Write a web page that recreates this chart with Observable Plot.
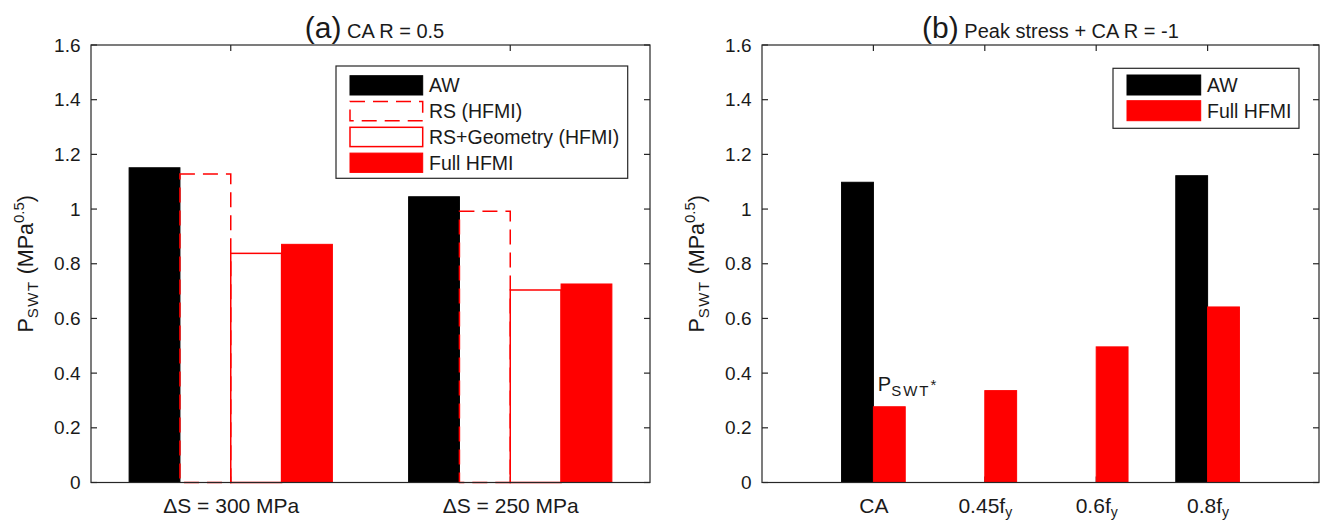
<!DOCTYPE html>
<html>
<head>
<meta charset="utf-8">
<script src="https://cdn.jsdelivr.net/npm/d3@7"></script>
<script src="https://cdn.jsdelivr.net/npm/@observablehq/plot@0.6"></script>
<style>
html,body{margin:0;padding:0;background:#fff;}
#wrap{position:relative;width:1325px;height:522px;overflow:hidden;background:#fff;}
#wrap svg{position:absolute;top:0;}
</style>
</head>
<body>
<div id="wrap"></div>
<script>
// ---------------- data ----------------
const groupsA = ["ΔS = 300 MPa", "ΔS = 250 MPa"];
const seriesA = ["AW", "RS (HFMI)", "RS+Geometry (HFMI)", "Full HFMI"];
const awA = [1.151, 1.045];
const rsA = [1.128, 0.992];
const rsGeoA = [0.838, 0.704];
const fullA = [0.871, 0.726];

const groupsB = ["CA", "0.45f_y", "0.6f_y", "0.8f_y"];
const seriesB = ["AW", "Full HFMI"];
const awB = [1.098, 0, 0, 1.122];
const fullB = [0.277, 0.336, 0.496, 0.642];

const yTicks = [0, 0.2, 0.4, 0.6, 0.8, 1, 1.2, 1.4, 1.6];
const titleA = ["(a)", "CA R = 0.5"];
const titleB = ["(b)", "Peak stress + CA R = -1"];
const yLabel = [["P", ""], ["SWT", "sub"], [" (MPa", ""], ["0.5", "sup"], [")", ""]];
const noteB = {group: "CA", series: "Full HFMI", parts: [["P", ""], ["SWT", "sub"], ["*", "sup"]]};

// ---------------- styling ----------------
const H = 522;
const FONT = '"Liberation Sans", Arial, Helvetica, sans-serif';
const AXIS = "#262626";
const TEXT = "#1a1a1a";
const RED = "#ff0000";
const TICK = 6;

const stylesA = {
  "AW": {fill: "#000", stroke: "#000", strokeWidth: 1},
  "RS (HFMI)": {fill: "none", stroke: RED, strokeWidth: 1.5, strokeDasharray: "15,8"},
  "RS+Geometry (HFMI)": {fill: "none", stroke: RED, strokeWidth: 1.5},
  "Full HFMI": {fill: RED, stroke: RED, strokeWidth: 1}
};
const stylesB = {
  "AW": {fill: "#000", stroke: "#000", strokeWidth: 1},
  "Full HFMI": {fill: RED, stroke: RED, strokeWidth: 1}
};

function rich(textSel, parts, o) {
  let cur = 0;
  for (const [t, kind] of parts) {
    const target = kind === "sub" ? o.sub : kind === "sup" ? -o.sup : 0;
    const ts = textSel.append("tspan").text(t).attr("font-size", kind ? o.small : o.size);
    if (target !== cur) ts.attr("dy", target - cur);
    if (kind === "sub" && o.ls) ts.attr("letter-spacing", o.ls);
    cur = target;
  }
}

function panel(cfg) {
  const rows = cfg.groups.flatMap((g, i) =>
    cfg.series.map((s, k) => ({group: g, series: s, value: cfg.values[k][i]})));
  const L = cfg.ml, R = cfg.width - cfg.mr, T = cfg.mt, B = H - cfg.mb;
  // the leftmost facet starts after the fx outer padding; shift the y axis back onto the frame
  const step = (R - L) / (cfg.groups.length + 2 * cfg.fxOuter);
  const facetShift = cfg.fxOuter * step;

  const marks = [
    ...cfg.series.map(s => Plot.barY(rows.filter(d => d.series === s),
      {fx: "group", x: "series", y: "value", ...cfg.styles[s]})),
    Plot.axisY(yTicks, {anchor: "left", tickSize: 0, tickPadding: 11, dx: -facetShift,
      tickFormat: d => String(d), label: null, fontSize: 19}),
    Plot.axisFx({anchor: "bottom", tickSize: 0, tickPadding: 15, label: null, fontSize: 21, tickFormat: d => d})
  ];
  if (cfg.note) {
    marks.push(Plot.text(rows.filter(d => d.group === cfg.note.group && d.series === cfg.note.series),
      {fx: "group", x: "series", y: "value", text: () => "note", textAnchor: "start",
       dx: -12, dy: -16, lineAnchor: "bottom", fontSize: 20}));
  }
  const svg = Plot.plot({
    width: cfg.width, height: H,
    marginLeft: cfg.ml, marginRight: cfg.mr, marginTop: cfg.mt, marginBottom: cfg.mb,
    style: {fontFamily: FONT, fontSize: "19px", color: TEXT, background: "transparent", overflow: "visible"},
    fx: {domain: cfg.groups, paddingInner: 0, paddingOuter: cfg.fxOuter, round: false, label: null},
    x: {domain: cfg.series, paddingInner: 0, paddingOuter: 0.75, round: false, axis: null, label: null},
    y: {domain: [0, 1.6], axis: null, label: null},
    marks
  });
  svg.style.left = cfg.left + "px";
  document.getElementById("wrap").appendChild(svg);

  const s = d3.select(svg);
  const fx = svg.scale("fx"), y = svg.scale("y");
  const centers = cfg.groups.map(g => fx.apply(g) + fx.bandwidth / 2);

  // bottom ticks under the bars
  const under = s.insert("g", "g").attr("stroke", AXIS).attr("stroke-width", 1);
  for (const c of centers) under.append("line").attr("x1", c).attr("x2", c).attr("y1", B).attr("y2", B - TICK);

  // box, top ticks, y ticks both sides
  const over = s.append("g").attr("fill", "none").attr("stroke", AXIS).attr("stroke-width", 1.2);
  over.append("rect").attr("x", L).attr("y", T).attr("width", R - L).attr("height", B - T);
  for (const c of centers) over.append("line").attr("x1", c).attr("x2", c).attr("y1", T).attr("y2", T + TICK);
  for (const v of yTicks) {
    const yy = y.apply(v);
    over.append("line").attr("x1", L).attr("x2", L + TICK).attr("y1", yy).attr("y2", yy);
    over.append("line").attr("x1", R).attr("x2", R - TICK).attr("y1", yy).attr("y2", yy);
  }

  // subscript in group labels
  s.selectAll('g[aria-label="fx-axis tick label"] text').each(function () {
    const t = this.textContent;
    if (!t.includes("_")) return;
    const [a, b] = t.split("_");
    const sel = d3.select(this);
    sel.text(null);
    sel.append("tspan").text(a);
    sel.append("tspan").attr("dy", 4.5).attr("font-size", 14).text(b);
  });

  // annotation
  if (cfg.note) {
    s.selectAll('g[aria-label="text"] text').each(function () {
      const sel = d3.select(this);
      sel.text(null);
      rich(sel, cfg.note.parts, {size: 20, small: 15, sub: 5, sup: 1, ls: 2});
    });
  }

  // legend
  const lg = cfg.legend;
  const lx = R - lg.right - lg.width, ly = T + lg.top;
  const gl = s.append("g").attr("text-anchor", "start");
  gl.append("rect").attr("x", lx).attr("y", ly).attr("width", lg.width).attr("height", lg.height)
    .attr("fill", "#fff").attr("stroke", AXIS).attr("stroke-width", 1.2);
  cfg.series.forEach((name, k) => {
    const st = cfg.styles[name];
    const ry = ly + lg.padTop + k * lg.pitch;
    gl.append("rect").attr("x", lx + lg.padLeft).attr("y", ry).attr("width", lg.swW).attr("height", lg.swH)
      .attr("fill", st.fill === "none" ? "#fff" : st.fill).attr("stroke", st.stroke)
      .attr("stroke-width", st.strokeWidth).attr("stroke-dasharray", st.strokeDasharray || null);
    gl.append("text").attr("x", lx + lg.padLeft + lg.swW + lg.gap).attr("y", ry + lg.swH / 2)
      .attr("dy", "0.36em").attr("text-anchor", "start").attr("font-size", 19.5).attr("fill", TEXT).text(name);
  });

  // title
  const tt = s.append("text").attr("x", (L + R) / 2 + cfg.titleShift).attr("y", 38)
    .attr("text-anchor", "middle").attr("fill", TEXT);
  tt.append("tspan").attr("font-size", 30).text(cfg.title[0]);
  tt.append("tspan").attr("font-size", 20).text(" " + cfg.title[1]);

  // y label
  const yl = s.append("text").attr("transform", `translate(${L - 58},${(T + B) / 2}) rotate(-90)`)
    .attr("text-anchor", "middle").attr("fill", TEXT);
  rich(yl, yLabel, {size: 21.5, small: 15, sub: 4.5, sup: 9, ls: 1.5});
}

panel({
  left: 0, width: 662, ml: 91, mr: 12, mt: 45, mb: 39.5, fxOuter: 0, titleShift: 4,
  groups: groupsA, series: seriesA, values: [awA, rsA, rsGeoA, fullA], styles: stylesA,
  title: titleA,
  legend: {right: 22.3, top: 21, width: 291.7, height: 112.3, padTop: 9.7, pitch: 25.8, padLeft: 14, swW: 72.7, swH: 19.3, gap: 6.3}
});
panel({
  left: 662, width: 663, ml: 100, mr: 6, mt: 45, mb: 39.5, fxOuter: 0.5, titleShift: 10,
  groups: groupsB, series: seriesB, values: [awB, fullB], styles: stylesB,
  title: titleB, note: noteB,
  legend: {right: 20, top: 23.3, width: 186, height: 60, padTop: 6.7, pitch: 25.7, padLeft: 14, swW: 73.7, swH: 20, gap: 6.3}
});
</script>
</body>
</html>
